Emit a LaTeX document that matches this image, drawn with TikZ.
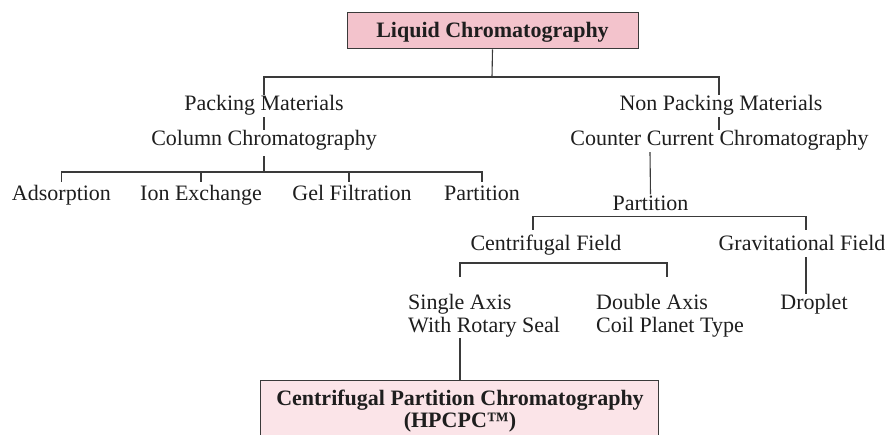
\documentclass[tikz,border=0pt]{standalone}
\usepackage{fontspec}
\setmainfont{Liberation Serif}
\definecolor{pinkA}{HTML}{F3C3CC}
\definecolor{pinkB}{HTML}{FBE4E8}
\definecolor{ln}{HTML}{3A3A3A}
\definecolor{txt}{HTML}{1E1E1E}
\begin{document}
\begin{tikzpicture}[x=1pt,y=-1pt,
  lbl/.style={font=\fontsize{22}{26}\selectfont, text=txt, inner sep=1pt,
              text height=15pt, text depth=5pt, anchor=base},
  lblw/.style={lbl, anchor=base west, inner sep=0pt},
  lblb/.style={lbl, font=\fontsize{22}{26}\selectfont\bfseries},
  conn/.style={draw=ln, line width=1.1pt},
  boxA/.style={draw=ln, line width=1pt, fill=pinkA, text=txt,
               font=\fontsize{22}{26}\selectfont\bfseries,
               text height=16pt, text depth=2pt,
               minimum width=291pt, minimum height=36pt, inner sep=0pt},
  boxB/.style={draw=ln, line width=1pt, fill=pinkB,
               minimum width=398pt, minimum height=90pt, inner sep=0pt}]
\useasboundingbox (0,0) rectangle (889,435);
\fill[white] (0,0) rectangle (889,435);

% top box
\node[boxA] (lc) at (492.5,31) {Liquid Chromatography};

% level 1
\node[lbl] (pm) at (264,111) {Packing Materials};
\node[lbl] (npm) at (721,111) {Non Packing Materials};
\node[lbl] (cc) at (264,146) {Column Chromatography};
\node[lbl] (ccc) at (719.5,146) {Counter Current Chromatography};

% left branch leaves
\node[lbl] (ad) at (61.5,201) {Adsorption};
\node[lbl] (ie) at (201,201) {Ion Exchange};
\node[lbl] (gf) at (352,201) {Gel Filtration};
\node[lbl] (pa) at (482,201) {Partition};

% right branch
\node[lbl] (part) at (650.5,210.5) {Partition};
\node[lbl] (cf) at (546,251) {Centrifugal Field};
\node[lbl] (gr) at (802,251) {Gravitational Field};
\node[lblw] (sa1) at (408,310) {Single Axis};
\node[lblw] (sa2) at (408,333) {With Rotary Seal};
\node[lblw] (da1) at (596,310) {Double Axis};
\node[lblw] (da2) at (596,333) {Coil Planet Type};
\node[lbl] (dr) at (814,310) {Droplet};

% bottom box
\node[boxB, anchor=north] (cpc) at (459,380) {};
\node[lblb] (cpct1) at (460,406) {Centrifugal Partition Chromatography};
\node[lblb] (cpct2) at (460,428) {(HPCPC™)};

% junction coordinates
\coordinate (j1) at (492,77);
\coordinate (tR) at (719,77);
\coordinate (j2) at (264,172);
\coordinate (tP) at (650,150);
\coordinate (tcf) at (533,230);
\coordinate (tgr) at (806,230);
\coordinate (j4) at (546,263);
\coordinate (tsa) at (460,277);
\coordinate (tda) at (667,277);

% connectors
\draw[conn] (lc.south) -- (j1);
\draw[conn] (pm.north) -- (pm.north |- j1) -- (tR) -- (tR |- npm.north);
\draw[conn] (pm.south) -- (cc.north);
\draw[conn] (tR |- npm.south) -- (tR |- ccc.north);
\draw[conn] ([yshift=-4pt]cc.south) -- (j2);
\draw[conn] ([yshift=3pt]ad.north) -- (ad.north |- j2) -- (pa.north |- j2) -- ([yshift=3pt]pa.north);
\draw[conn] ([yshift=3pt]ie.north) -- (ie.north |- j2);
\draw[conn] ([xshift=-3pt,yshift=3pt]gf.north) -- ([xshift=-3pt]gf.north |- j2);

\draw[conn] (tP |- ccc.south) -- (part.north);
\draw[conn] (tcf) -- (tcf |- part.south) -- (tgr |- part.south) -- (tgr);
\draw[conn] (tgr |- gr.south) -- (tgr |- dr.north);
\draw[conn] (tsa) |- (tda |- j4) -- (tda);
\draw[conn] (tsa |- sa2.south) -- (tsa |- cpc.north);
\end{tikzpicture}
\end{document}
